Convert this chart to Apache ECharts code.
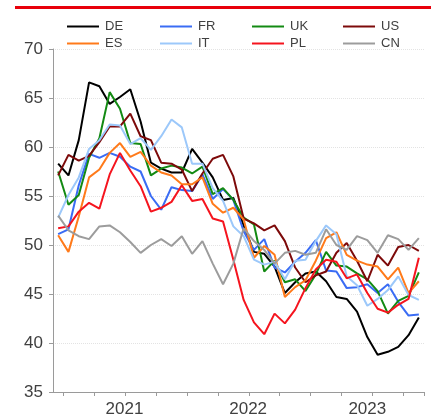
<!DOCTYPE html>
<html>
<head>
<meta charset="utf-8">
<script src="https://cdn.jsdelivr.net/npm/echarts@6/dist/echarts.min.js"></script>
<style>
  html, body { margin: 0; padding: 0; background: #fff; }
  #chart { width: 431px; height: 417px; }
</style>
</head>
<body>
<div id="chart"></div>
<script>
// monthly, Dec 2020 .. Nov 2023
var months = [];
for (var y = 2020; y <= 2023; y++) {
  for (var m = 1; m <= 12; m++) {
    if ((y === 2020 && m < 12) || (y === 2023 && m > 11)) continue;
    months.push(y + '-' + (m < 10 ? '0' + m : m));
  }
}

var DE = [58.3, 57.1, 60.7, 66.6, 66.2, 64.4, 65.1, 65.9, 62.6, 58.4, 57.8, 57.4, 57.4,
  59.8, 58.4, 56.9, 54.6, 54.8, 52.0, 49.3, 49.1, 47.8, 45.1, 46.2, 47.1,
  47.3, 46.3, 44.7, 44.5, 43.2, 40.6, 38.8, 39.1, 39.6, 40.8, 42.6];
var FR = [51.1, 51.6, 56.1, 59.3, 58.9, 59.4, 59.0, 58.0, 57.5, 55.0, 53.6, 55.9, 55.6,
  55.5, 57.2, 54.7, 55.7, 54.6, 51.4, 49.5, 50.6, 47.7, 47.2, 48.3, 49.2,
  50.5, 47.4, 47.3, 45.6, 45.7, 46.0, 45.1, 46.0, 44.2, 42.8, 42.9];
var UK = [57.5, 54.1, 55.1, 58.9, 60.9, 65.6, 63.9, 60.4, 60.3, 57.1, 57.8, 58.1, 57.9,
  57.3, 58.0, 55.2, 55.8, 54.6, 52.8, 52.1, 47.3, 48.4, 46.2, 46.5, 45.3,
  47.0, 49.3, 47.9, 47.8, 47.1, 46.5, 45.3, 43.0, 44.3, 44.8, 47.2];
var US = [57.1, 59.2, 58.6, 59.1, 60.5, 62.1, 62.1, 63.4, 61.1, 60.7, 58.4, 58.3, 57.7,
  55.5, 57.3, 58.8, 59.2, 57.0, 52.7, 52.2, 51.5, 52.0, 50.4, 47.7, 46.2,
  46.9, 47.3, 49.2, 50.2, 48.4, 46.3, 49.0, 47.9, 49.8, 50.0, 49.4];
var ES = [51.0, 49.3, 52.9, 56.9, 57.7, 59.4, 60.4, 59.0, 59.5, 58.1, 57.4, 57.1, 56.2,
  56.2, 56.9, 54.2, 53.3, 53.8, 52.6, 48.7, 49.9, 49.0, 44.7, 45.7, 46.4,
  48.4, 50.7, 51.3, 49.0, 48.4, 48.0, 47.8, 46.5, 47.7, 45.1, 46.3];
var IT = [52.8, 55.1, 56.9, 59.8, 60.7, 62.3, 62.2, 60.3, 60.9, 59.7, 61.1, 62.8, 62.0,
  58.3, 58.3, 55.8, 54.5, 51.9, 50.9, 48.5, 48.0, 48.3, 46.5, 48.4, 48.5,
  50.4, 52.0, 51.1, 46.8, 45.9, 43.8, 44.5, 45.4, 46.8, 44.9, 44.4];
var PL = [51.7, 51.9, 53.4, 54.3, 53.7, 57.2, 59.4, 57.6, 56.0, 53.4, 53.8, 54.4, 56.1,
  54.5, 54.7, 52.7, 52.4, 48.5, 44.4, 42.1, 40.9, 43.0, 42.0, 43.4, 45.6,
  47.5, 48.5, 48.3, 46.6, 47.0, 45.1, 43.5, 43.1, 43.9, 44.5, 48.7];
var CN = [53.0, 51.5, 50.9, 50.6, 51.9, 52.0, 51.3, 50.3, 49.2, 50.0, 50.6, 49.9, 50.9,
  49.1, 50.4, 48.1, 46.0, 48.1, 51.7, 50.4, 49.5, 48.1, 49.2, 49.4, 49.0,
  49.2, 51.6, 50.0, 49.5, 50.9, 50.5, 49.2, 51.0, 50.6, 49.5, 50.7];

var names = ['DE', 'FR', 'UK', 'US', 'ES', 'IT', 'PL', 'CN'];
var values = { DE: DE, FR: FR, UK: UK, US: US, ES: ES, IT: IT, PL: PL, CN: CN };
var colors = { DE: '#000000', FR: '#3a6cf4', UK: '#138a13', US: '#7d0a0a',
  ES: '#ff7a1a', IT: '#9cc8fa', PL: '#f5141e', CN: '#9c9c9c' };

// year labels sit on the June slot
var yearLabelAt = { '2021-06': '2021', '2022-06': '2022', '2023-06': '2023' };

var font = '"Liberation Sans", Arial, sans-serif';

var chart = echarts.init(document.getElementById('chart'));

var legends = [];
var cols = [['DE', 'ES'], ['FR', 'IT'], ['UK', 'PL'], ['US', 'CN']];
var colLeft = [67, 160, 252, 343];
cols.forEach(function (c, i) {
  legends.push({
    data: c,
    orient: 'vertical',
    left: colLeft[i],
    top: 20,
    padding: 0,
    itemGap: 4,
    itemWidth: 32,
    itemHeight: 2,
    icon: 'rect',
    selectedMode: false,
    textStyle: { fontFamily: font, fontSize: 13, color: '#404040', padding: [0, 0, 0, 1] }
  });
});

chart.setOption({
  animation: false,
  legend: legends,
  graphic: [{
    type: 'rect',
    left: 15, top: 6,
    shape: { width: 416, height: 3 },
    style: { fill: '#e8000b' }
  }],
  grid: {
    left: 53,
    right: 7,
    top: 49,
    bottom: 25,
    outerBoundsMode: 'none'
  },
  xAxis: {
    type: 'category',
    data: months,
    boundaryGap: true,
    axisLine: { show: true, lineStyle: { color: '#9a9a9a', width: 1 } },
    axisTick: {
      show: true,
      length: 4,
      lineStyle: { color: '#9a9a9a' },
      interval: function (idx, val) {
        var m = +val.slice(5);
        return m === 1 || m === 4 || m === 7 || m === 10;
      }
    },
    axisLabel: {
      interval: function (idx, val) { return !!yearLabelAt[val]; },
      formatter: function (val) {
        var t = yearLabelAt[val] || '';
        return t === '2023' ? t : '{s|' + t + '}';
      },
      rich: { s: { padding: [0, 0, 0, 9], fontSize: 17, fontFamily: font, color: '#404040' } },
      fontFamily: font,
      fontSize: 17,
      color: '#404040',
      margin: 9
    },
    splitLine: { show: false }
  },
  yAxis: {
    type: 'value',
    min: 35,
    max: 70,
    interval: 5,
    axisLine: { show: true, lineStyle: { color: '#9a9a9a', width: 1 } },
    axisTick: { show: true, length: 4, lineStyle: { color: '#9a9a9a' } },
    axisLabel: { fontFamily: font, fontSize: 17, color: '#404040', margin: 10 },
    splitLine: { show: true, lineStyle: { color: '#e3e3e3', type: 'dotted', width: 1 } }
  },
  series: names.map(function (n) {
    return {
      name: n,
      type: 'line',
      data: values[n],
      symbol: 'none',
      color: colors[n],
      lineStyle: { color: colors[n], width: 2 },
      emphasis: { disabled: true }
    };
  })
});
</script>
</body>
</html>
